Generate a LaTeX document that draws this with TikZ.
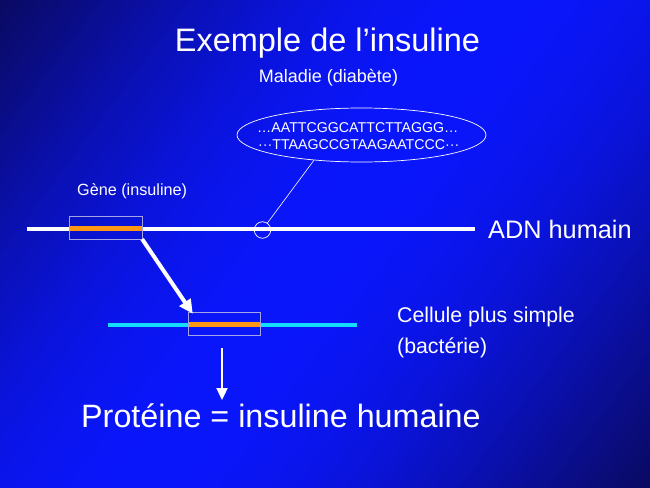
\documentclass[tikz,border=0pt]{standalone}
\usepackage{fontspec}
\setmainfont{Liberation Sans}
\usetikzlibrary{arrows.meta,shapes.geometric}
\definecolor{bgdark}{RGB}{10,10,100}
\definecolor{bgbright}{RGB}{10,22,252}
\definecolor{boxline}{RGB}{165,165,225}
\definecolor{genecol}{RGB}{255,150,20}
\definecolor{cyanline}{RGB}{20,220,255}
\newcommand{\fs}[1]{\fontsize{#1}{#1}\selectfont}
\begin{document}
\begin{tikzpicture}[x=1pt,y=-1pt,
  lbl/.style={text=white, inner sep=0pt, anchor=base west},
  clbl/.style={text=white, inner sep=0pt, anchor=base},
  genebox/.style={minimum width=72pt, minimum height=22pt, inner sep=0pt},
  outline/.style={draw=boxline, line width=0.8pt},
  thinwhite/.style={draw=white, line width=0.7pt},
  bigarrow/.style={white, line width=4pt, -{Triangle[length=14pt,width=13pt]}},
  downarrow/.style={white, line width=2.3pt, -{Triangle[length=12pt,width=11pt]}}]
\useasboundingbox (0,0) rectangle (650,487);
% background gradient: dark at top-left and bottom-right, bright across the middle
\begin{scope}
\clip (0,0) rectangle (650,487);
\fill[bgdark] (0,0) rectangle (650,487);
\begin{scope}[shift={(325,243.5)}, rotate=-36.8]
\foreach \i in {0,...,79} {
  \pgfmathsetmacro\tt{(\i+0.5)/80}
  \pgfmathtruncatemacro\mm{100*(sin(180*\tt))^1.1}
  \fill[bgbright!\mm!bgdark] (-406+\i*10.15,-420) rectangle (-406+\i*10.15+10.8,420);
}
\end{scope}
\end{scope}

% titles
\node[clbl] (title) at (327.5,52) {\fs{32.5}Exemple de l’insuline};
\node[clbl] (maladie) at (328.5,82.5) {\fs{18}Maladie (diabète)};

% sequence ellipse
\node[ellipse, thinwhite, minimum width=249pt, minimum height=54pt, inner sep=0pt] (ell) at (361.5,135) {};
\node[lbl] (seq1) at (257,132) {\fs{14.2}…AATTCGGCATTCTTAGGG…};
\node[lbl] (seq2) at (258,149.5) {\fs{14.2}···TTAAGCCGTAAGAATCCC···};

% human DNA
\coordinate (dnaL) at (27,229);
\coordinate (dnaR) at (475,229);
\draw[white, line width=4pt] (dnaL) -- (dnaR);
\node[lbl] (adn) at (488,238) {\fs{25.3}ADN humain};
\node[lbl] (genelbl) at (77,195.5) {\fs{16.2}Gène (insuline)};

\node[genebox] (gene1) at (106,228) {};
\draw[genecol, line width=5pt] (gene1.west) -- (gene1.east);
\draw[outline] (gene1.north west) rectangle (gene1.south east);

% mutation
\node[circle, thinwhite, minimum size=16.5pt, inner sep=0pt] (mut) at (262.5,230) {};
\draw[white, line width=0.6pt] (mut.55) -- (ell.208);

% bacterial DNA
\coordinate (bacL) at (108,324.5);
\coordinate (bacR) at (357,324.5);
\draw[cyanline, line width=4pt] (bacL) -- (bacR);
\node[genebox, minimum width=71pt] (gene2) at (224.5,324) {};
\draw[genecol, line width=5pt] (gene2.west) -- (gene2.east);
\draw[outline] (gene2.north west) rectangle (gene2.south east);

\draw[bigarrow] (gene1.south east) -- ([xshift=4pt,yshift=-1pt]gene2.north west);

\node[lbl] (cell1) at (397,322.3) {\fs{21.3}Cellule plus simple};
\node[lbl] (cell2) at (397,353.5) {\fs{21.3}(bactérie)};

% protein
\node[lbl] (prot) at (81,427) {\fs{32.3}Protéine = insuline humaine};
\coordinate (arrTop) at (222,348);
\coordinate (arrTip) at (222,400);
\draw[downarrow] (arrTop) -- (arrTip);
\end{tikzpicture}
\end{document}
